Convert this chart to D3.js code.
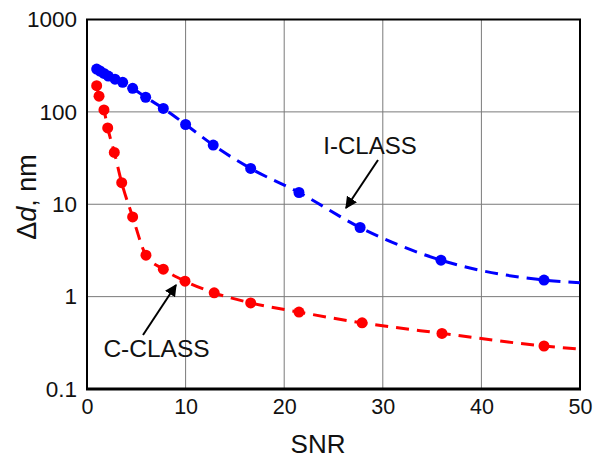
<!DOCTYPE html>
<html><head><meta charset="utf-8">
<script src="https://cdn.jsdelivr.net/npm/d3@7/dist/d3.min.js"></script>
<style>body{margin:0;background:#fff}svg{display:block}text{font-family:"Liberation Sans",Arial,sans-serif;fill:#111}</style>
</head><body><svg id="c" width="601" height="462"></svg>
<script>
const iSnr = [0.98,1.32,1.72,2.16,2.84,3.62,4.63,5.95,7.74,10.0,12.8,16.6,21.5,27.7,35.9,46.35];
const iVal = [291,277,261,244,226,209,180,144,109,73,43.7,24.4,13.4,5.6,2.48,1.51];
const cSnr = [0.98,1.22,1.72,2.1,2.77,3.52,4.63,5.98,7.74,9.94,12.9,16.6,21.5,27.9,36.0,46.35];
const cVal = [192,148,105,67,36.4,17.1,7.3,2.81,1.98,1.47,1.10,0.855,0.68,0.52,0.40,0.292];
const fitEndSnr = 50;
const iFitEnd = 1.41;
const cFitEnd = 0.27;
const xTicks = [0,10,20,30,40,50];
const yTicks = [0.1,1,10,100,1000];
const yTickLabels = ["0.1","1","10","100","1000"];

const svg = d3.select("#c");
const L=87, R=580, T=19.5, B=389;
const x = d3.scaleLinear().domain([0,50]).range([L,R]);
const y = d3.scaleLog().domain([0.1,1000]).range([B,T]);

// grid
const g = svg.append("g");
g.selectAll(".vx").data(xTicks).enter().append("line")
 .attr("x1",d=>x(d)).attr("x2",d=>x(d)).attr("y1",T).attr("y2",B)
 .attr("stroke","#7a7a7a").attr("stroke-width",1);
g.selectAll(".hy").data(yTicks).enter().append("line")
 .attr("x1",L).attr("x2",R).attr("y1",d=>y(d)).attr("y2",d=>y(d))
 .attr("stroke","#7a7a7a").attr("stroke-width",1);

// axes with d3 (labels only)
const xAxis = d3.axisBottom(x).tickValues(xTicks).tickSize(0).tickPadding(10).tickFormat(d3.format("d"));
const xa = svg.append("g").attr("transform",`translate(0,${B})`).call(xAxis);
xa.select(".domain").remove();
xa.selectAll("text").style("font-size","21.5px").attr("fill","#111").attr("font-family",null);
const yAxis = d3.axisLeft(y).tickValues(yTicks).tickSize(0).tickPadding(10).tickFormat((d,i)=>yTickLabels[i]);
const ya = svg.append("g").attr("transform",`translate(${L},0)`).call(yAxis);
ya.select(".domain").remove();
ya.selectAll("text").style("font-size","22.5px").attr("fill","#111").attr("font-family",null);

// frame
svg.append("rect").attr("x",L).attr("y",T).attr("width",R-L).attr("height",B-T)
 .attr("fill","none").attr("stroke","#000").attr("stroke-width",2);
svg.append("line").attr("x1",L-1).attr("x2",R+1).attr("y1",B).attr("y2",B).attr("stroke","#000").attr("stroke-width",3);

// curves
const line = d3.line().x(d=>x(d[0])).y(d=>y(d[1])).curve(d3.curveMonotoneX);
const iFit = iSnr.map((s,i)=>[s,iVal[i]]).concat([[fitEndSnr,iFitEnd]]);
const cFit = cSnr.map((s,i)=>[s,cVal[i]]).concat([[fitEndSnr,cFitEnd]]);
svg.append("path").attr("d",line(iFit)).attr("fill","none").attr("stroke","#0000ff")
 .attr("stroke-width",3).attr("stroke-dasharray","13,8");
svg.append("path").attr("d",line(cFit)).attr("fill","none").attr("stroke","#ff0000")
 .attr("stroke-width",3).attr("stroke-dasharray","13,8");

svg.append("g").selectAll("circle").data(iSnr).enter().append("circle")
 .attr("cx",d=>x(d)).attr("cy",(d,i)=>y(iVal[i])).attr("r",5.5).attr("fill","#0000ff");
svg.append("g").selectAll("circle").data(cSnr).enter().append("circle")
 .attr("cx",d=>x(d)).attr("cy",(d,i)=>y(cVal[i])).attr("r",5.5).attr("fill","#ff0000");

// annotations
svg.append("defs").append("marker").attr("id","ah").attr("viewBox","0 0 10 10")
 .attr("refX",9).attr("refY",5).attr("markerWidth",12).attr("markerHeight",12)
 .attr("markerUnits","userSpaceOnUse").attr("orient","auto")
 .append("path").attr("d","M0,0 L10,5 L0,10 Z").attr("fill","#000");
svg.append("line").attr("x1",378).attr("y1",160).attr("x2",346).attr("y2",208)
 .attr("stroke","#000").attr("stroke-width",2).attr("marker-end","url(#ah)");
svg.append("line").attr("x1",143).attr("y1",335).attr("x2",176).attr("y2",285)
 .attr("stroke","#000").attr("stroke-width",2).attr("marker-end","url(#ah)");
svg.append("text").attr("x",370).attr("y",154).attr("text-anchor","middle").style("font-size","24px").text("I-CLASS");
svg.append("text").attr("x",156.5).attr("y",357).attr("text-anchor","middle").style("font-size","24.5px").text("C-CLASS");

// axis titles
svg.append("text").attr("x",318).attr("y",453).attr("text-anchor","middle").style("font-size","26px").text("SNR");
const yl = svg.append("text").attr("transform","translate(36,197) rotate(-90)").attr("text-anchor","middle").style("font-size","27px");
yl.append("tspan").text("Δ");
yl.append("tspan").style("font-style","italic").text("d");
yl.append("tspan").text(", nm");
</script></body></html>
